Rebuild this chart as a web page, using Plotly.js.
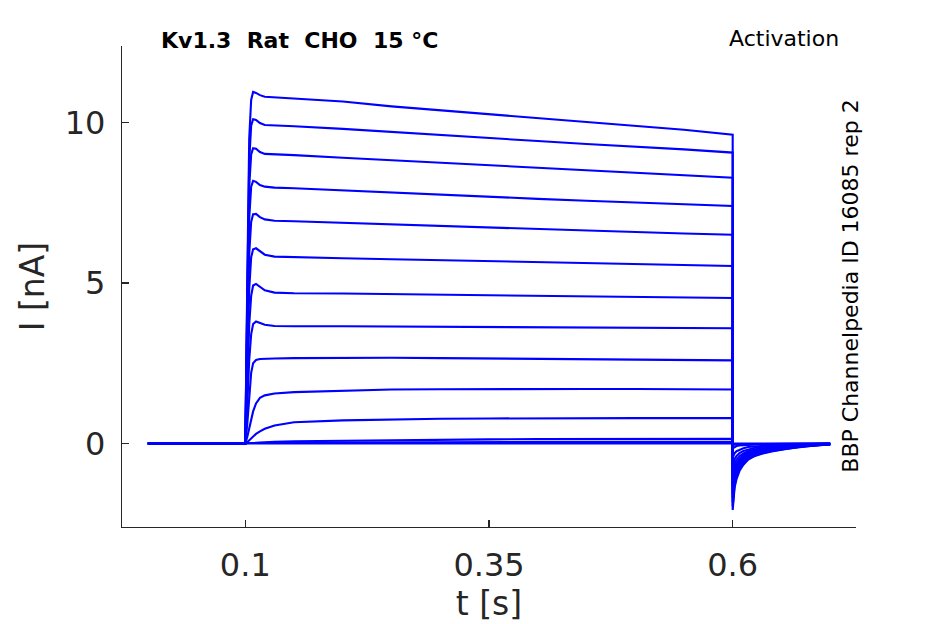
<!DOCTYPE html>
<html>
<head>
<meta charset="utf-8">
<script src="https://cdn.plot.ly/plotly-3.0.1.min.js"></script>
<style>html,body{margin:0;padding:0;background:#fff;}#chart{width:945px;height:624px;}</style>
</head>
<body>
<div id="chart"></div>
<script>
// time samples [s] shared by all sweeps (step at 0.1 s, return at 0.6 s)
var timeS = [0, 0.1, 0.102, 0.104, 0.106, 0.108, 0.111, 0.115, 0.12, 0.13, 0.15, 0.2, 0.25, 0.3, 0.35, 0.4, 0.45, 0.5, 0.55, 0.6,
             0.6, 0.602, 0.604, 0.607, 0.611, 0.616, 0.622, 0.63, 0.64, 0.655, 0.67, 0.685, 0.7];

// current [nA] per sweep
var sweep1  = [0, 0, 5.0, 9.5, 10.7, 10.95, 10.92, 10.85, 10.8, 10.78, 10.76, 10.65, 10.5, 10.38, 10.25, 10.12, 10.0, 9.88, 9.77, 9.62,
               -2.07, -1.36, -1.1, -0.85, -0.66, -0.5, -0.4, -0.32, -0.25, -0.17, -0.1, -0.06, -0.03];
var sweep2  = [0, 0, 4.6, 8.8, 9.9, 10.1, 10.08, 9.98, 9.92, 9.9, 9.88, 9.8, 9.7, 9.6, 9.5, 9.42, 9.33, 9.25, 9.16, 9.06,
               -1.95, -1.28, -1.04, -0.8, -0.62, -0.47, -0.38, -0.3, -0.23, -0.16, -0.1, -0.06, -0.03];
var sweep3  = [0, 0, 4.2, 8.0, 9.0, 9.2, 9.18, 9.08, 9.02, 9.0, 8.98, 8.9, 8.82, 8.74, 8.66, 8.58, 8.5, 8.43, 8.36, 8.28,
               -1.82, -1.2, -0.97, -0.75, -0.58, -0.44, -0.35, -0.28, -0.22, -0.15, -0.09, -0.05, -0.03];
var sweep4  = [0, 0, 3.6, 7.0, 8.0, 8.18, 8.15, 8.05, 8.0, 7.97, 7.95, 7.88, 7.82, 7.75, 7.69, 7.62, 7.56, 7.5, 7.45, 7.4,
               -1.7, -1.12, -0.9, -0.7, -0.54, -0.41, -0.33, -0.26, -0.2, -0.14, -0.08, -0.05, -0.02];
var sweep5  = [0, 0, 3.0, 5.9, 6.9, 7.14, 7.15, 7.05, 6.98, 6.94, 6.92, 6.87, 6.82, 6.77, 6.72, 6.67, 6.62, 6.58, 6.54, 6.5,
               -1.58, -1.04, -0.84, -0.65, -0.5, -0.38, -0.3, -0.24, -0.19, -0.13, -0.08, -0.04, -0.02];
var sweep6  = [0, 0, 2.4, 4.8, 5.8, 6.05, 6.08, 5.98, 5.88, 5.82, 5.8, 5.77, 5.74, 5.71, 5.68, 5.65, 5.62, 5.59, 5.56, 5.53,
               -1.45, -0.96, -0.77, -0.6, -0.46, -0.35, -0.28, -0.22, -0.17, -0.12, -0.07, -0.04, -0.02];
var sweep7  = [0, 0, 1.8, 3.7, 4.6, 4.92, 4.97, 4.88, 4.77, 4.7, 4.68, 4.67, 4.65, 4.63, 4.61, 4.6, 4.58, 4.57, 4.55, 4.53,
               -1.3, -0.86, -0.69, -0.54, -0.41, -0.31, -0.25, -0.2, -0.15, -0.1, -0.06, -0.03, -0.02];
var sweep8  = [0, 0, 1.2, 2.6, 3.4, 3.72, 3.8, 3.76, 3.7, 3.66, 3.65, 3.65, 3.64, 3.63, 3.62, 3.62, 3.61, 3.6, 3.6, 3.59,
               -1.15, -0.76, -0.61, -0.48, -0.37, -0.28, -0.22, -0.17, -0.13, -0.09, -0.05, -0.03, -0.01];
var sweep9  = [0, 0, 0.6, 1.5, 2.2, 2.5, 2.6, 2.63, 2.64, 2.65, 2.66, 2.67, 2.67, 2.66, 2.65, 2.64, 2.63, 2.62, 2.6, 2.59,
               -0.95, -0.63, -0.5, -0.4, -0.31, -0.24, -0.19, -0.15, -0.11, -0.08, -0.05, -0.03, -0.01];
var sweep10 = [0, 0, 0.2, 0.45, 0.72, 1.0, 1.25, 1.42, 1.5, 1.56, 1.6, 1.65, 1.68, 1.69, 1.7, 1.7, 1.7, 1.7, 1.69, 1.68,
               -0.72, -0.48, -0.39, -0.3, -0.23, -0.18, -0.14, -0.11, -0.08, -0.06, -0.04, -0.02, -0.01];
var sweep11 = [0, 0, 0.04, 0.1, 0.16, 0.22, 0.3, 0.38, 0.46, 0.56, 0.66, 0.72, 0.75, 0.77, 0.78, 0.79, 0.79, 0.79, 0.79, 0.79,
               -0.45, -0.3, -0.24, -0.19, -0.15, -0.11, -0.09, -0.07, -0.05, -0.04, -0.02, -0.01, 0];
var sweep12 = [0, 0, 0, 0.01, 0.01, 0.02, 0.02, 0.03, 0.04, 0.05, 0.07, 0.09, 0.11, 0.12, 0.13, 0.14, 0.14, 0.15, 0.15, 0.15,
               -0.15, -0.1, -0.08, -0.06, -0.05, -0.04, -0.03, -0.02, -0.02, -0.01, -0.01, 0, 0];
var sweep13 = [0, 0, 0, 0, 0, 0.01, 0.01, 0.01, 0.01, 0.02, 0.02, 0.03, 0.04, 0.04, 0.05, 0.05, 0.05, 0.05, 0.05, 0.05,
               -0.05, -0.03, -0.03, -0.02, -0.02, -0.01, -0.01, -0.01, 0, 0, 0, 0, 0];
var sweep14 = [0, 0, 0, 0, 0, 0, 0, 0, 0, 0, 0, 0, 0, 0, 0, 0, 0, 0, 0, 0,
               0, 0, 0, 0, 0, 0, 0, 0, 0, 0, 0, 0, 0];

var sweeps = [sweep1, sweep2, sweep3, sweep4, sweep5, sweep6, sweep7, sweep8, sweep9, sweep10, sweep11, sweep12, sweep13, sweep14];

var xTicks = [0.1, 0.35, 0.6];
var yTicks = [0, 5, 10];

var titleText = 'Kv1.3  Rat  CHO  15 °C';
var protocolText = 'Activation';
var sourceText = 'BBP Channelpedia ID 16085 rep 2';

var traces = sweeps.map(function (s) {
  return {x: timeS, y: s, type: 'scatter', mode: 'lines',
          line: {color: '#0000ff', width: 2.1}, hoverinfo: 'skip', showlegend: false};
});

var axColor = '#262626';
var layout = {
  width: 945, height: 624,
  margin: {l: 122, r: 89, t: 46, b: 97, pad: 0},
  paper_bgcolor: '#ffffff', plot_bgcolor: '#ffffff',
  font: {family: 'DejaVu Sans, sans-serif', color: axColor},
  showlegend: false,
  xaxis: {
    range: [-0.0265, 0.7265], tickvals: xTicks, ticktext: xTicks.map(String),
    showgrid: false, zeroline: false, showline: true, linecolor: axColor, linewidth: 1.2,
    ticks: 'inside', ticklen: 7, tickcolor: axColor, tickwidth: 1.2,
    tickfont: {size: 32, color: axColor}, ticklabelstandoff: 9,
    title: {text: 't [s]', font: {size: 33, color: axColor}, standoff: 2}
  },
  yaxis: {
    range: [-2.6, 12.38], tickvals: yTicks, ticktext: yTicks.map(String),
    showgrid: false, zeroline: false, showline: true, linecolor: axColor, linewidth: 1.2,
    ticks: 'inside', ticklen: 7, tickcolor: axColor, tickwidth: 1.2,
    tickfont: {size: 32, color: axColor}, ticklabelstandoff: 9,
    title: {text: 'I [nA]', font: {size: 33, color: axColor}, standoff: 10}
  },
  annotations: [
    {text: '<b>' + titleText + '</b>', xref: 'paper', yref: 'paper', x: 0.0504, y: 1, yshift: 6,
     xanchor: 'left', yanchor: 'middle', showarrow: false, font: {size: 22, color: '#000000'}},
    {text: protocolText, xref: 'paper', yref: 'paper', x: 0.9755, y: 1, yshift: 8, xshift: 3,
     xanchor: 'right', yanchor: 'middle', showarrow: false, font: {size: 22, color: '#000000'}},
    {text: sourceText, xref: 'paper', yref: 'paper', x: 0.992, y: 0.5, textangle: -90,
     xanchor: 'center', yanchor: 'middle', showarrow: false, font: {size: 22, color: '#000000'}}
  ]
};

Plotly.newPlot('chart', traces, layout, {staticPlot: true, displayModeBar: false});
</script>
</body>
</html>
